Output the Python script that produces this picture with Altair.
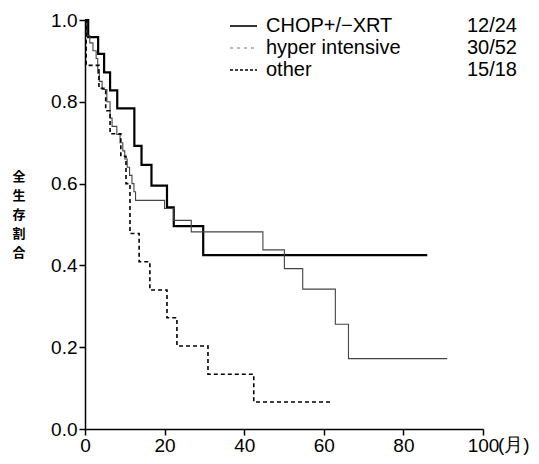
import altair as alt
import pandas as pd

# ---- data (months, overall survival proportion) ----
chop_t = [0, 0.8, 3.3, 4.8, 6.3, 8.1, 12.4, 14.2, 16.7, 20.6, 22.3, 29.7, 86]
chop_s = [1.0, 0.958, 0.917, 0.872, 0.828, 0.784, 0.692, 0.646, 0.595, 0.542, 0.496, 0.425, 0.425]

hyper_t = [0, 0.4, 1.2, 2.0, 2.8, 3.2, 3.6, 4.3, 5.5, 6.3, 6.8, 8.0, 8.8, 9.5, 10.0,
           10.6, 11.2, 11.8, 12.3, 12.7, 20.0, 22.3, 26.7, 44.7, 50.1, 54.7, 62.9, 66.2, 91]
hyper_s = [1.0, 0.962, 0.944, 0.925, 0.906, 0.87, 0.85, 0.83, 0.80, 0.76, 0.74, 0.72, 0.70, 0.68, 0.66,
           0.64, 0.62, 0.60, 0.58, 0.559, 0.539, 0.51, 0.482, 0.438, 0.392, 0.342, 0.256, 0.172, 0.172]

other_t = [0, 0.3, 3.5, 5.2, 6.3, 9.0, 10.3, 11.3, 13.6, 16.3, 20.6, 23.1, 30.9, 42.4, 62.2]
other_s = [1.0, 0.889, 0.833, 0.778, 0.722, 0.667, 0.60, 0.478, 0.409, 0.34, 0.272, 0.203, 0.134, 0.066, 0.066]

legend_names = ["CHOP+/−XRT", "hyper intensive", "other"]
legend_counts = ["12/24", "30/52", "15/18"]
x_ticks = [0, 20, 40, 60, 80, 100]
y_ticks = [0.0, 0.2, 0.4, 0.6, 0.8, 1.0]
y_title = ["全", "生", "存", "割", "合"]
x_unit = "(月)"

FONT = "Liberation Sans"
CJK = "Noto Sans CJK JP"
W, H = 398, 409


def km(name, t, s):
    return pd.DataFrame({"series": name, "t": t, "s": s})


x_enc = alt.X(
    "t:Q",
    scale=alt.Scale(domain=[0, 100], nice=False),
    axis=alt.Axis(values=x_ticks, format="d", title=None, grid=False,
                  domainColor="black", domainWidth=1.5, tickColor="black",
                  tickWidth=1.5, tickSize=6, labelFontSize=19, labelFont=FONT,
                  labelColor="black", labelPadding=1, labelFlush=False),
)
y_enc = alt.Y(
    "s:Q",
    scale=alt.Scale(domain=[0, 1], nice=False),
    axis=alt.Axis(values=y_ticks, format=".1f", title=None, grid=False,
                  domainColor="black", domainWidth=1.5, tickColor="black",
                  tickWidth=1.5, tickSize=6, labelFontSize=19, labelFont=FONT,
                  labelColor="black", labelPadding=2, labelFlush=False),
)

styles = [
    dict(color="black", strokeWidth=2.2),
    dict(color="#444444", strokeWidth=1.1),
    dict(color="black", strokeWidth=1.6, strokeDash=[4, 3]),
]

chop = alt.Chart(km("CHOP", chop_t, chop_s)).mark_line(
    interpolate="step-after", **styles[0]).encode(x=x_enc, y=y_enc)
hyper = alt.Chart(km("hyper", hyper_t, hyper_s)).mark_line(
    interpolate="step-after", **styles[1]).encode(x=x_enc, y=y_enc)
other = alt.Chart(km("other", other_t, other_s)).mark_line(
    interpolate="step-after", **styles[2]).encode(x=x_enc, y=y_enc)

layers = [chop, hyper, other]

one = pd.DataFrame({"k": [0]})
legend_dash = [None, [3, 4], [3, 2]]
legend_col = ["black", "#777777", "black"]
legend_w = [1.6, 1.0, 1.6]
for i in range(3):
    yy = 6 + 22 * i
    rule_kw = dict(color=legend_col[i], strokeWidth=legend_w[i])
    if legend_dash[i] is not None:
        rule_kw["strokeDash"] = legend_dash[i]
    layers.append(alt.Chart(one).mark_rule(**rule_kw).encode(
        x=alt.value(145), x2=alt.value(172), y=alt.value(yy)))
    layers.append(alt.Chart(one).mark_text(
        text=legend_names[i], align="left", baseline="middle", font=FONT,
        fontSize=20, color="black").encode(x=alt.value(181), y=alt.value(yy)))
    layers.append(alt.Chart(one).mark_text(
        text=legend_counts[i], align="right", baseline="middle", font=FONT,
        fontSize=20, color="black").encode(x=alt.value(432), y=alt.value(yy)))

layers.append(alt.Chart(one).mark_text(
    text=y_title, align="center", baseline="top", font=CJK, fontSize=13,
    fontWeight="bold", lineHeight=19, color="black").encode(
        x=alt.value(-66), y=alt.value(151)))
layers.append(alt.Chart(one).mark_text(
    text=x_unit, align="left", baseline="top", font=FONT, fontSize=19,
    color="black").encode(x=alt.value(413), y=alt.value(H + 7)))

chart = alt.layer(*layers).properties(
    width=W, height=H, autosize="none",
    padding={"left": 77, "top": 12, "right": 48, "bottom": 27},
    background="white",
).configure_view(stroke=None)

chart.save("out.html", embed_options={"renderer": "svg", "actions": False})
